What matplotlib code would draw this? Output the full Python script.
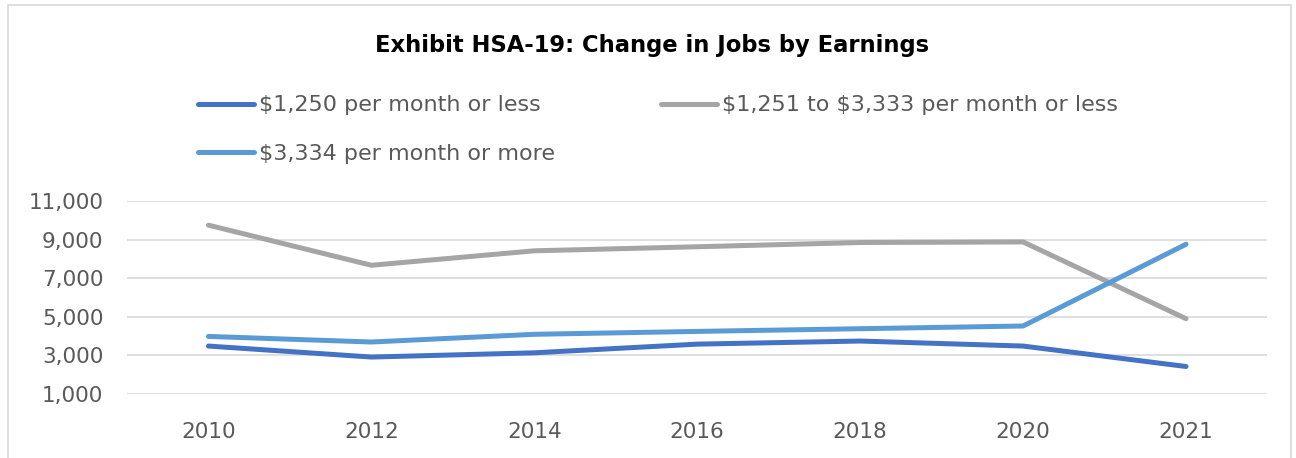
import matplotlib.pyplot as plt
from matplotlib.patches import Rectangle

plt.rcParams['font.family'] = ['DejaVu Sans']

years = ['2010', '2012', '2014', '2016', '2018', '2020', '2021']
low_earn = [3480, 2910, 3130, 3580, 3740, 3480, 2420]
mid_earn = [9750, 7670, 8420, 8630, 8850, 8880, 4900]
high_earn = [3980, 3690, 4090, 4240, 4380, 4520, 8760]
y_ticks = [1000, 3000, 5000, 7000, 9000, 11000]

TEXT_GREY = '#595959'

fig = plt.figure(figsize=(12.96, 4.58), dpi=100)
ax = fig.add_axes([0.098, 0.140, 0.880, 0.421])

x = range(len(years))
l1, = ax.plot(x, low_earn, color='#4472C4', lw=3.6, solid_capstyle='round',
              solid_joinstyle='round', label=r'\$1,250 per month or less', zorder=3)
l2, = ax.plot(x, mid_earn, color='#A5A5A5', lw=3.6, solid_capstyle='round',
              solid_joinstyle='round', label=r'\$1,251 to \$3,333 per month or less', zorder=3)
l3, = ax.plot(x, high_earn, color='#5B9BD5', lw=3.6, solid_capstyle='round',
              solid_joinstyle='round', label=r'\$3,334 per month or more', zorder=3)

ax.set_xlim(-0.5, len(years) - 0.5)
ax.set_ylim(1000, 11000)
ax.set_xticks(list(x))
ax.set_xticklabels(years)
ax.set_yticks(y_ticks)
ax.set_yticklabels([f'{v:,}' for v in y_ticks])
ax.tick_params(axis='both', length=0, labelsize=15.5, colors=TEXT_GREY)
ax.tick_params(axis='x', pad=20)
ax.tick_params(axis='y', pad=17)
ax.grid(axis='y', color='#D9D9D9', lw=1.2)
ax.set_axisbelow(True)
for s in ax.spines.values():
    s.set_visible(False)

fig.text(0.503, 0.900, 'Exhibit HSA-19: Change in Jobs by Earnings', ha='center', va='center',
         fontsize=16.3, fontweight='bold', color='black')

# row order: entries 1 and 2 on top, entry 3 below
leg = fig.legend([l1, l3, l2], [l1.get_label(), l3.get_label(), l2.get_label()],
                 loc='upper left', bbox_to_anchor=(0.146, 0.811), ncol=2, frameon=False,
                 fontsize=16, handlelength=2.5, handletextpad=0.22, columnspacing=4.8,
                 labelspacing=1.27, borderaxespad=0)
for t in leg.get_texts():
    t.set_color(TEXT_GREY)

fig.patches.append(Rectangle((0.006, -0.05), 0.990, 1.038, transform=fig.transFigure,
                             fill=False, edgecolor='#D9D9D9', lw=1.2))

fig.savefig('out.png', dpi=100, facecolor='white')
